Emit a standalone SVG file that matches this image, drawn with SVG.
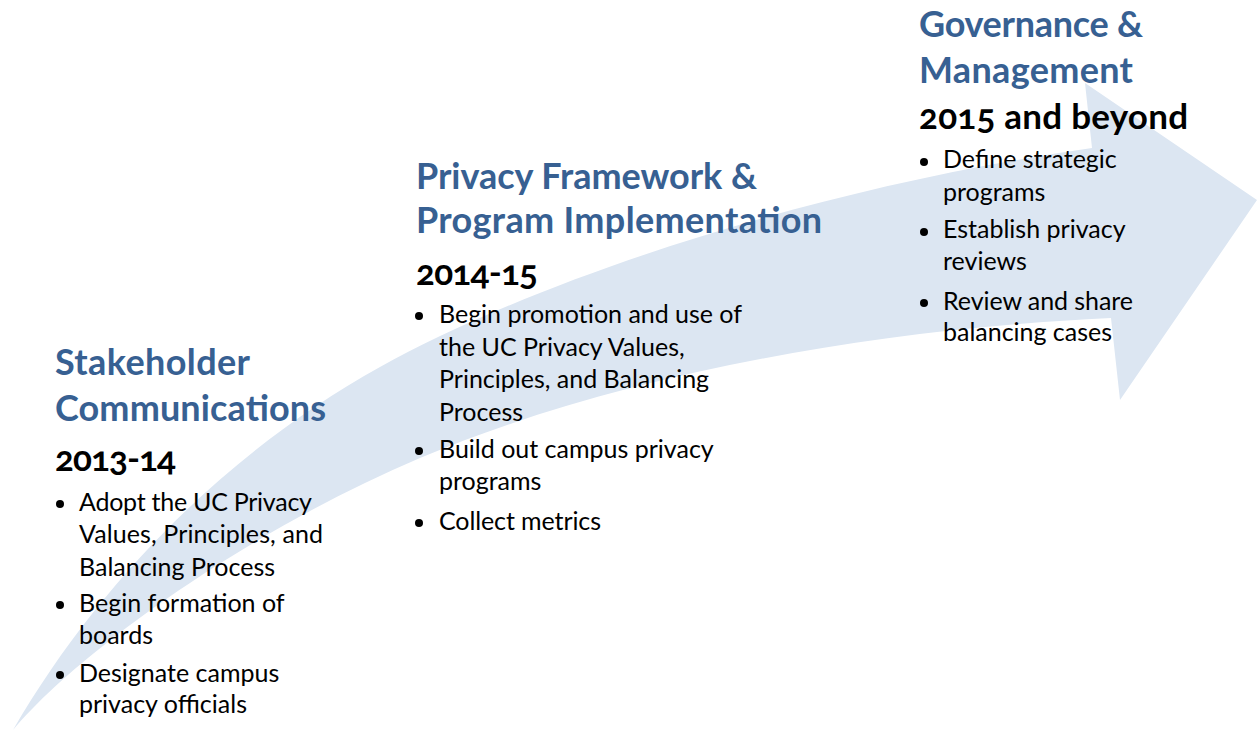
<svg xmlns="http://www.w3.org/2000/svg" width="1257" height="731" viewBox="0 0 1257 731">
<style>
.bg{fill:#ffffff}
.arrow{fill:#dce6f2;stroke:none}
.head{font-family:Lato,"Open Sans","Noto Sans",sans-serif;font-weight:bold;font-size:36px;fill:#376092}
.year{font-family:Lato,"Open Sans","Noto Sans",sans-serif;font-weight:bold;font-size:35px;fill:#000000;font-variant-numeric:oldstyle-nums}
.body{font-family:Lato,"Open Sans","Noto Sans",sans-serif;font-size:25px;fill:#000000}
.dot{fill:#000000}
</style>
<rect class="bg" x="0" y="0" width="1257" height="731"/>
<g id="connectors">
<path id="timeline-arrow" class="arrow" d="M13,730 C100,580 230,450 380,367 C530,284 800,190 1092,148 L1085,83 L1257,200 L1120,400 L1111,318 C850,330 600,382 420,458 C250,530 80,650 13,730 Z"/>
</g>
<g id="stakeholder-communications">
<text class="head" x="55" y="375" textLength="195" lengthAdjust="spacing">Stakeholder</text>
<text class="head" x="55" y="421" textLength="271" lengthAdjust="spacing">Communications</text>
<text class="year" x="55" y="471" textLength="121" lengthAdjust="spacing">2013-14</text>
<circle class="dot" cx="60" cy="504" r="4"/>
<text class="body" x="79" y="511" textLength="233" lengthAdjust="spacing">Adopt the UC Privacy</text>
<text class="body" x="79" y="543" textLength="244" lengthAdjust="spacing">Values, Principles, and</text>
<text class="body" x="79" y="576">Balancing Process</text>
<circle class="dot" cx="60" cy="605" r="4"/>
<text class="body" x="79" y="612">Begin formation of</text>
<text class="body" x="79" y="644">boards</text>
<circle class="dot" cx="60" cy="675" r="4"/>
<text class="body" x="79" y="682">Designate campus</text>
<text class="body" x="79" y="713">privacy officials</text>
</g>
<g id="privacy-framework">
<text class="head" x="416" y="189" textLength="341" lengthAdjust="spacing">Privacy Framework &amp;</text>
<text class="head" x="416" y="233" textLength="406" lengthAdjust="spacing">Program Implementation</text>
<text class="year" x="416" y="285" textLength="122" lengthAdjust="spacing">2014-15</text>
<circle class="dot" cx="419" cy="316" r="4"/>
<text class="body" x="439" y="323" textLength="303" lengthAdjust="spacing">Begin promotion and use of</text>
<text class="body" x="439" y="356">the UC Privacy Values,</text>
<text class="body" x="439" y="388">Principles, and Balancing</text>
<text class="body" x="439" y="421">Process</text>
<circle class="dot" cx="419" cy="451" r="4"/>
<text class="body" x="439" y="458">Build out campus privacy</text>
<text class="body" x="439" y="490">programs</text>
<circle class="dot" cx="419" cy="523" r="4"/>
<text class="body" x="439" y="530" textLength="162" lengthAdjust="spacing">Collect metrics</text>
</g>
<g id="governance-management">
<text class="head" x="919" y="37" textLength="224" lengthAdjust="spacing">Governance &amp;</text>
<text class="head" x="919" y="83" textLength="214" lengthAdjust="spacing">Management</text>
<text class="year" x="919" y="129" textLength="269" lengthAdjust="spacing">2015 and beyond</text>
<circle class="dot" cx="924" cy="162" r="4"/>
<text class="body" x="943" y="168">Define strategic</text>
<text class="body" x="943" y="201">programs</text>
<circle class="dot" cx="924" cy="232" r="4"/>
<text class="body" x="943" y="238">Establish privacy</text>
<text class="body" x="943" y="270">reviews</text>
<circle class="dot" cx="924" cy="303" r="4"/>
<text class="body" x="943" y="310" textLength="190" lengthAdjust="spacing">Review and share</text>
<text class="body" x="943" y="341" textLength="169" lengthAdjust="spacing">balancing cases</text>
</g>
</svg>
